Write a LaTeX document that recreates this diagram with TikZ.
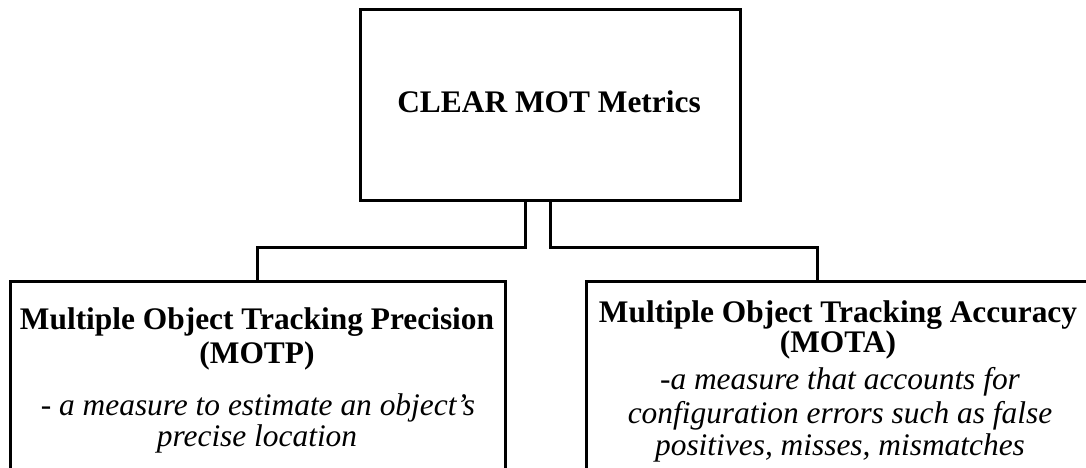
\documentclass[tikz,border=0pt]{standalone}
\usepackage{fontspec}
\setmainfont{Liberation Serif}
\begin{document}
\begin{tikzpicture}[x=1pt,y=-1pt,
  frame/.style={draw=black,line width=3pt,rectangle,inner sep=0pt},
  wire/.style={draw=black,line width=3pt},
  head/.style={anchor=base,inner sep=0pt,font=\fontsize{31.4}{34}\selectfont\bfseries},
  desc/.style={anchor=base,inner sep=0pt,font=\fontsize{31.4}{34}\selectfont\itshape}]
\useasboundingbox (0,0) rectangle (1086,468);
\clip (0,0) rectangle (1086,468);
% boxes
\node[frame,minimum width=380pt,minimum height=190pt] (top) at (550,105) {};
\node[frame,minimum width=495pt,minimum height=240pt] (motp) at (257.5,401) {};
\node[frame,minimum width=530pt,minimum height=240pt,anchor=north west] (mota) at (585,280) {};
% connector ends
\coordinate (tl) at (525,200);
\coordinate (tr) at (550,200);
\coordinate (ml) at (257,281);
\coordinate (mr) at (817,280);
\draw[wire] (tl) |- (ml |- 0,247) -- (ml);
\draw[wire] (tr) |- (mr |- 0,247) -- (mr);
% texts
\node[head] (t1) at (549,113) {CLEAR MOT Metrics};
\node[head] (p1) at (257,329) {Multiple Object Tracking Precision};
\node[head] (p2) at (257,363) {(MOTP)};
\node[desc] (p3) at (258,415) {- a measure to estimate an object’s};
\node[desc] (p4) at (257,446) {precise location};
\node[head] (a1) at (838,322) {Multiple Object Tracking Accuracy};
\node[head] (a2) at (838,352) {(MOTA)};
\node[desc] (a3) at (840,389) {-a measure that accounts for};
\node[desc] (a4) at (840,423) {configuration errors such as false};
\node[desc] (a5) at (840,455) {positives, misses, mismatches};
\end{tikzpicture}
\end{document}
